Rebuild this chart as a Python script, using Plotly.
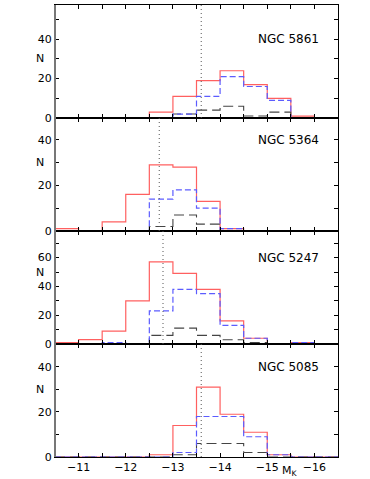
import plotly.graph_objects as go
from plotly.subplots import make_subplots

# bin edges in M_K (0.5 mag bins)
edges = [-10.5, -11.0, -11.5, -12.0, -12.5, -13.0, -13.5, -14.0, -14.5, -15.0, -15.5, -16.0, -16.5]

galaxies = ["NGC 5861", "NGC 5364", "NGC 5247", "NGC 5085"]

# counts per bin (red = all, blue = dashed, black = long dashed)
red_5861 = [0, 0, 0, 0, 3, 11, 19, 24, 17, 10, 1, 0]
blue_5861 = [0, 0, 0, 0, 0, 2, 11, 21, 16, 9, 0, 0]
black_5861 = [0, 0, 0, 0, 0, 2, 4, 6, 1, 3, 0, 0]

red_5364 = [1, 0, 4, 16, 29, 28, 13, 1, 0, 0, 0, 0]
blue_5364 = [0, 0, 0, 0, 14, 18, 10, 1, 0, 0, 0, 0]
black_5364 = [0, 0, 0, 0, 2, 7, 3, 0, 0, 0, 0, 0]

red_5247 = [1, 3, 9, 30, 57, 49, 38, 16, 4, 0, 1, 0]
blue_5247 = [0, 0, 1, 0, 23, 38, 35, 13, 4, 0, 1, 0]
black_5247 = [0, 0, 0, 0, 6, 11, 6, 3, 1, 0, 0, 0]

red_5085 = [0, 0, 0, 0, 1, 14, 31, 19, 11, 1, 0, 0]
blue_5085 = [0, 0, 0, 0, 0, 2, 18, 18, 9, 1, 0, 0]
black_5085 = [0, 0, 0, 0, 0, 1, 6, 6, 2, 0, 0, 0]

# dotted vertical marker per panel
markers = [-13.6, -12.71, -12.79, -13.6]

panels = [
    (red_5861, blue_5861, black_5861),
    (red_5364, blue_5364, black_5364),
    (red_5247, blue_5247, black_5247),
    (red_5085, blue_5085, black_5085),
]
y_tops = [57.4, 49.5, 78.5, 50.2]
label_y = [40, 40, 60, 40]
n_y = [30, 30, 50, 30]

fig = make_subplots(rows=4, cols=1, shared_xaxes=True, vertical_spacing=0)

styles = [
    dict(color="#ff6060", width=1.2, dash="solid"),
    dict(color="#444444", width=1.1, dash="10px,5px"),
    dict(color="#5c5cff", width=1.2, dash="6px,3px"),
]

for i, (red, blue, black) in enumerate(panels):
    row = i + 1
    for counts, st in zip([red, black, blue], styles):
        fig.add_trace(go.Scatter(
            x=edges, y=counts + [counts[-1]],
            mode="lines", line_shape="hv", line=st,
            showlegend=False, hoverinfo="skip"), row=row, col=1)
    fig.add_vline(x=markers[i], line=dict(color="#555555", width=1, dash="1px,3px"),
                  row=row, col=1)
    fig.update_yaxes(range=[0, y_tops[i]], row=row, col=1)
    xr = "x" if row == 1 else f"x{row}"
    yr = "y" if row == 1 else f"y{row}"
    fig.add_annotation(x=-16.13, y=label_y[i], xref=xr, yref=yr, text=galaxies[i],
                       showarrow=False, xanchor="right", yanchor="middle",
                       font=dict(size=12, color="black"))
    fig.add_annotation(x=-0.054, y=n_y[i], xref="paper", yref=yr, text="N",
                       showarrow=False, xanchor="center", yanchor="middle",
                       font=dict(size=11, color="black"))

fig.update_xaxes(range=[-10.5, -16.5], showline=True, linecolor="black", linewidth=1,
                 mirror="ticks", ticks="inside", ticklen=4, tickcolor="black",
                 tickvals=[-11, -12, -13, -14, -15, -16],
                 minor=dict(dtick=0.5, ticks="inside", ticklen=4, tickcolor="black"),
                 showgrid=False, zeroline=False,
                 tickfont=dict(size=11, color="black"))
fig.update_yaxes(showline=True, linecolor="black", linewidth=1,
                 mirror="ticks", ticks="inside", ticklen=4, tickcolor="black",
                 dtick=20, tick0=0,
                 minor=dict(dtick=10, ticks="inside", ticklen=4, tickcolor="black"),
                 showgrid=False, zeroline=False,
                 tickfont=dict(size=11, color="black"))

# grey left spine
fig.add_shape(type="line", xref="paper", yref="paper", x0=0, x1=0, y0=0, y1=1,
              line=dict(color="#777777", width=2), layer="above")

fig.add_annotation(x=0.832, y=-0.03, xref="paper", yref="paper", text="M<sub>K</sub>",
                   showarrow=False, xanchor="center", yanchor="middle",
                   font=dict(size=11, color="black"))

fig.update_layout(
    width=370, height=479,
    margin=dict(l=55, r=32, t=5, b=22),
    plot_bgcolor="white", paper_bgcolor="white",
    font=dict(family="DejaVu Sans", size=11, color="black"),
)

fig.write_html("out.html", config={"displayModeBar": False},
               post_script="document.body.style.margin='0';")
